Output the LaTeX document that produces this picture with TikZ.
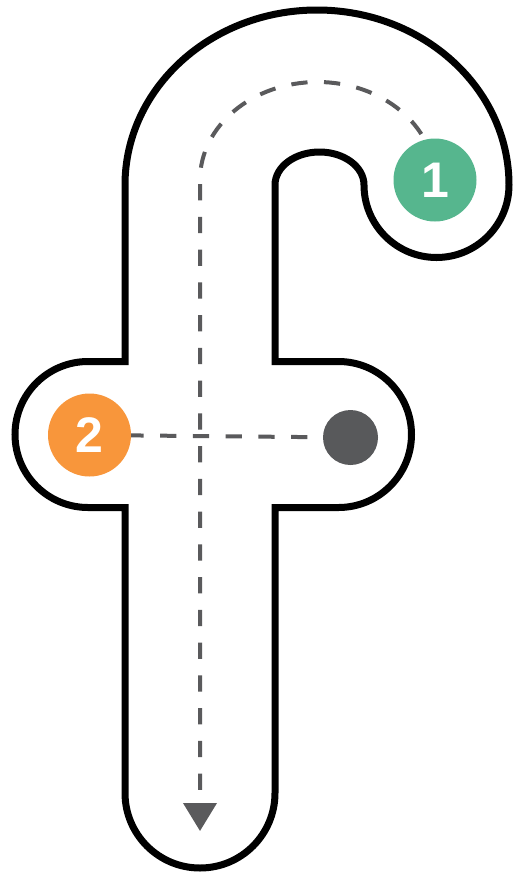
\documentclass[tikz,border=0pt]{standalone}
\usepackage{fontspec}
\setsansfont{Liberation Sans}
\usetikzlibrary{arrows.meta,backgrounds}
\definecolor{cDash}{HTML}{5A5A5C}
\definecolor{cOne}{HTML}{56B68E}
\definecolor{cTwo}{HTML}{F8963B}
\definecolor{cDot}{HTML}{58595B}
\tikzset{
  glyph/.style={draw=black,line width=7pt,fill=white},
  badge/.style={circle,minimum size=83pt,inner sep=0pt,text=white,font=\sffamily\bfseries\fontsize{50}{50}\selectfont},
  enddot/.style={circle,minimum size=55pt,inner sep=0pt,fill=cDot},
  trace/.style={draw=cDash,line width=4pt,dash pattern=on 16.25pt off 16.5pt},
  tarr/.style={trace,-{Triangle[length=28pt,width=33pt]}}}
\begin{document}
\begin{tikzpicture}[x=1pt,y=1pt]
\useasboundingbox (0,0) rectangle (515,-879);
\node[badge,fill=cOne] (one) at (435,-180) {1};
\node[badge,fill=cTwo] (two) at (89.5,-435) {2};
\node[enddot] (end) at (350.5,-437.5) {};
\coordinate (tip) at (200,-831);
\begin{scope}[on background layer]
% outline of the letter
\draw[glyph] (125,-793) -- (125,-507.5) -- (88,-507.5)
  arc[start angle=270,end angle=90,radius=73] -- (125,-361.5) -- (125,-185)
  arc[start angle=180,end angle=0,x radius=192,y radius=175]
  arc[start angle=0,end angle=-180,radius=72.5]
  arc[start angle=0,end angle=180,x radius=44.5,y radius=33]
  -- (275,-361.5) -- (338.5,-361.5)
  arc[start angle=90,end angle=-90,radius=73] -- (275,-507.5) -- (275,-793)
  arc[start angle=0,end angle=-180,radius=75] -- cycle;
% stroke order
\draw[tarr,dash phase=16.9pt] (one.center)
  arc[start angle=0,end angle=180,x radius=117.5,y radius=98] -- (tip);
\draw[trace,dash phase=3.75pt] (two) -- (end);
\end{scope}
\end{tikzpicture}
\end{document}
